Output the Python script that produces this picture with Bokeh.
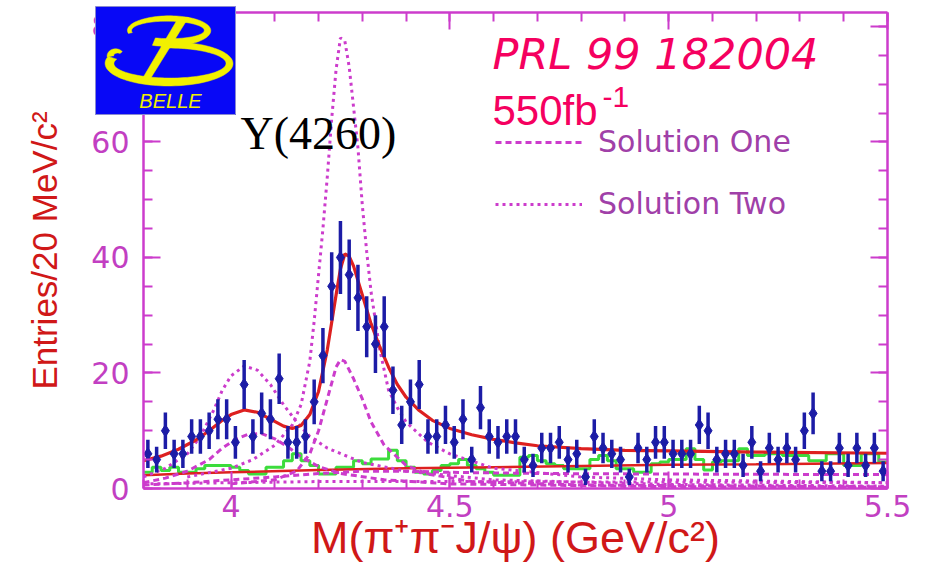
import numpy as np
from bokeh.plotting import figure
from bokeh.models import (Range1d, LinearAxis, SingleIntervalTicker, Label,
                          Legend, LegendItem, CustomJSTickFormatter)
from bokeh.core.properties import value
from bokeh.embed import file_html
from bokeh.resources import INLINE

# ---------------- data ----------------
# 20 MeV/c^2 bins covering 3.80 - 5.50 GeV/c^2
bin_start = 3.80
bin_width = 0.02
counts = [6, 5, 10, 6, 6, 9, 9, 10, 12, 12,
          8, 18, 9, 13, 12, 19, 8, 8, 9, 15,
          23, 35, 40, 37, 33, 28, 25, 28, 17, 11,
          15, 18, 9, 9, 11, 8, 12, 5, 14, 9,
          8, 9, 9, 5, 4, 7, 7, 8, 5, 6,
          2, 9, 7, 6, 5, 2, 7, 5, 8, 8,
          6, 6, 6, 11, 10, 5, 6, 6, 4, 8,
          3, 7, 5, 7, 5, 10, 13, 3, 3, 7,
          4, 7, 4, 7, 3]

# sideband background histogram (same binning)
sideband = [2.8, 3.7, 3.1, 3.7, 2.8, 2.8, 3.4, 4.0, 4.0, 4.0,
            3.7, 3.1, 2.5, 2.5, 3.7, 3.7, 4.8, 6.0, 4.8, 4.0,
            2.5, 2.5, 3.7, 3.7, 4.8, 4.3, 5.1, 5.1, 6.6, 4.8,
            3.7, 2.8, 2.5, 3.1, 4.0, 4.3, 5.0, 4.0, 3.4, 2.8,
            2.3, 2.3, 2.3, 5.4, 5.7, 4.8, 4.3, 4.0, 3.4, 3.4,
            3.4, 5.0, 5.7, 4.8, 3.4, 3.4, 2.8, 2.8, 4.3, 4.6,
            5.0, 5.0, 6.9, 5.0, 3.2, 4.6, 4.8, 4.8, 6.9, 5.7,
            5.7, 6.0, 6.0, 5.7, 5.7, 5.7, 4.8, 4.8, 6.0, 6.0,
            4.0, 4.0, 6.0, 6.0, 4.6]

# total fit
fit_x = [3.80, 3.84, 3.88, 3.92, 3.95, 3.98, 4.00, 4.03, 4.06, 4.09, 4.12, 4.14, 4.16,
         4.18, 4.20, 4.22, 4.24, 4.25, 4.26, 4.27, 4.28, 4.30, 4.32, 4.34, 4.36, 4.38,
         4.40, 4.43, 4.46, 4.50, 4.55, 4.60, 4.65, 4.70, 4.80, 4.90, 5.00, 5.20, 5.50]
fit_y = [4.8, 5.6, 6.8, 8.4, 10.0, 11.8, 12.8, 13.6, 13.2, 12.0, 10.8, 10.4, 10.9,
         12.8, 16.8, 24.0, 33.5, 38.0, 40.6, 40.2, 38.5, 33.5, 28.5, 24.5, 21.0, 18.0,
         15.8, 13.5, 11.8, 10.4, 9.3, 8.5, 7.9, 7.4, 6.9, 6.6, 6.5, 6.3, 6.1]

# fitted non-resonant background
bkg_x = [3.80, 3.90, 4.00, 4.20, 4.40, 4.60, 4.80, 5.00, 5.20, 5.50]
bkg_y = [2.3, 2.6, 2.8, 3.2, 3.5, 3.7, 3.9, 4.1, 4.2, 4.4]

# Solution One components
s1_y4008_x = [3.80, 3.85, 3.90, 3.95, 3.98, 4.01, 4.04, 4.07, 4.10, 4.13, 4.16, 4.20,
              4.25, 4.35, 4.50, 5.00, 5.50]
s1_y4008_y = [1.0, 1.8, 3.0, 5.0, 7.0, 8.5, 9.4, 9.5, 8.6, 7.2, 5.5, 3.8,
              2.6, 1.5, 0.8, 0.3, 0.2]
s1_y4260_x = [4.00, 4.10, 4.15, 4.18, 4.20, 4.22, 4.24, 4.25, 4.26, 4.28, 4.30, 4.32,
              4.35, 4.40, 4.45, 4.55, 4.80, 5.50]
s1_y4260_y = [0.8, 1.5, 3.0, 6.0, 10.0, 15.5, 21.0, 22.3, 22.0, 19.0, 15.5, 11.5,
              7.5, 4.0, 2.5, 1.2, 0.6, 0.3]
s1_intf_x = [3.80, 3.90, 4.00, 4.10, 4.20, 4.30, 4.40, 4.50, 4.70, 5.00, 5.50]
s1_intf_y = [0.6, 1.0, 1.5, 2.0, 2.6, 3.0, 3.0, 2.8, 2.6, 2.5, 2.4]

# Solution Two components
s2_y4008_x = [3.80, 3.85, 3.90, 3.93, 3.96, 3.98, 4.00, 4.03, 4.06, 4.09, 4.12, 4.15,
              4.18, 4.22, 4.30, 4.40, 4.60, 5.00, 5.50]
s2_y4008_y = [2.0, 3.5, 6.0, 9.0, 13.5, 17.0, 19.5, 21.2, 20.5, 18.0, 14.5, 11.5,
              9.0, 7.0, 4.5, 3.0, 1.5, 0.7, 0.4]
s2_y4260_x = [3.90, 4.00, 4.05, 4.10, 4.14, 4.16, 4.18, 4.19, 4.20, 4.21, 4.22, 4.23,
              4.24, 4.25, 4.26, 4.27, 4.28, 4.29, 4.30, 4.31, 4.32, 4.34, 4.36, 4.38,
              4.40, 4.45, 4.50, 4.60, 4.80, 5.00, 5.50]
s2_y4260_y = [2.0, 3.5, 5.0, 7.5, 11.0, 14.5, 22.0, 29.0, 37.0, 45.0, 54.0, 64.0,
              72.5, 78.0, 77.5, 73.0, 66.0, 59.0, 49.0, 41.0, 34.0, 24.0, 17.0, 14.0,
              11.5, 8.0, 6.0, 3.5, 2.0, 1.5, 1.0]
s2_intf_x = [3.80, 4.00, 4.20, 4.50, 5.00, 5.50]
s2_intf_y = [0.8, 1.0, 1.2, 1.2, 1.1, 1.0]

legend_labels = ["Solution One", "Solution Two"]

# ---------------- derived ----------------
counts_arr = np.array(counts, dtype=float)
centers = bin_start + bin_width * (np.arange(len(counts)) + 0.5)
err = np.sqrt(counts_arr)
edges = bin_start + bin_width * np.arange(len(sideband) + 1)
side_steps = list(sideband) + [sideband[-1]]

# ---------------- main figure ----------------
X0, X1 = 3.80, 5.50
Y0, Y1 = 0.0, 82.4
W, H = 930, 574
FL, FR, FT, FB = 143, 887, 12, 488   # frame edges in page pixels

MAG = "#cc3ccc"
LABEL_MAG = "#c23fc2"
RED_T = "#d01818"

p = figure(width=W, height=H, x_range=Range1d(X0, X1), y_range=Range1d(Y0, Y1),
           output_backend="svg", toolbar_location=None,
           min_border_left=FL, min_border_right=W - FR,
           min_border_top=FT, min_border_bottom=H - FB,
           x_axis_label="M(π⁺π⁻J/ψ) (GeV/c²)", y_axis_label="Entries/20 MeV/c²")
p.outline_line_color = None
p.grid.visible = False
p.background_fill_color = "white"
p.border_fill_color = "white"

p.xaxis.ticker = SingleIntervalTicker(interval=0.5, num_minor_ticks=5)
p.yaxis.ticker = SingleIntervalTicker(interval=20, num_minor_ticks=4)
p.xaxis.formatter = CustomJSTickFormatter(code="return String(tick)")


def style_axis(ax, labels=True):
    ax.axis_line_color = MAG
    ax.axis_line_width = 2.5
    ax.major_tick_line_color = MAG
    ax.minor_tick_line_color = MAG
    ax.major_tick_line_width = 2
    ax.minor_tick_line_width = 2
    ax.major_tick_in = 17
    ax.major_tick_out = 0
    ax.minor_tick_in = 9
    ax.minor_tick_out = 0
    ax.major_label_text_color = LABEL_MAG
    ax.major_label_text_font = "DejaVu Sans"
    ax.major_label_text_font_size = "30px"
    if not labels:
        ax.formatter = CustomJSTickFormatter(code="return ''")
        ax.major_label_standoff = 0


style_axis(p.xaxis[0])
style_axis(p.yaxis[0])
p.xaxis.major_label_standoff = 6
p.yaxis.major_label_standoff = 14
for ax in (p.xaxis[0], p.yaxis[0]):
    ax.axis_label_text_color = RED_T
    ax.axis_label_text_font = "Liberation Sans"
    ax.axis_label_text_font_style = "normal"
p.xaxis.axis_label_text_font_size = "45px"
p.yaxis.axis_label_text_font_size = "35px"
p.xaxis.axis_label_standoff = -8
p.yaxis.axis_label_standoff = 24

top_ax = LinearAxis(ticker=SingleIntervalTicker(interval=0.5, num_minor_ticks=5))
right_ax = LinearAxis(ticker=SingleIntervalTicker(interval=20, num_minor_ticks=4))
style_axis(top_ax, labels=False)
style_axis(right_ax, labels=False)
p.add_layout(top_ax, "above")
p.add_layout(right_ax, "right")

# sideband histogram
p.step(edges, side_steps, mode="after", line_color="#3cdc3c", line_width=3)

# fitted curves
p.line(bkg_x, bkg_y, line_color="#dd2020", line_width=2.5)
s1_style = dict(line_color=MAG, line_width=3, line_dash="6 4")
s2_style = dict(line_color=MAG, line_width=3, line_dash="3 4")
r_s1 = p.line(s1_y4260_x, s1_y4260_y, **s1_style)
p.line(s1_y4008_x, s1_y4008_y, **s1_style)
p.line(s1_intf_x, s1_intf_y, **s1_style)
r_s2 = p.line(s2_y4260_x, s2_y4260_y, **s2_style)
p.line(s2_y4008_x, s2_y4008_y, **s2_style)
p.line(s2_intf_x, s2_intf_y, **s2_style)
p.line(fit_x, fit_y, line_color="#dd2020", line_width=3.2)

# data with Poisson errors
p.segment(centers, counts_arr - err, centers, counts_arr + err,
          line_color="#1c1ca6", line_width=3.5)
p.scatter(centers, counts_arr, marker="diamond", size=12,
          fill_color="#1c1ca6", line_color="#1c1ca6")

legend = Legend(items=[LegendItem(label=legend_labels[0], renderers=[r_s1]),
                       LegendItem(label=legend_labels[1], renderers=[r_s2])],
                location=(352, 267), orientation="vertical",
                glyph_width=87, glyph_height=30, label_height=30, spacing=27,
                label_standoff=16, padding=0, margin=0,
                background_fill_alpha=0, border_line_color=None,
                label_text_color="#a040a8", label_text_font="DejaVu Sans",
                label_text_font_size="30px")
p.add_layout(legend, "center")


# ---------------- text annotations ----------------
def gx(px):
    return X0 + (px - FL) * (X1 - X0) / (FR - FL)


def gy(py):
    return Y0 + (FB - py) * (Y1 - Y0) / (FB - FT)


PINK = "#f5005f"
p.add_layout(Label(x=gx(492), y=gy(53), text="PRL 99 182004", text_color=PINK,
                   text_font="DejaVu Sans", text_font_style="italic",
                   text_font_size="43px", text_baseline="alphabetic"))
p.add_layout(Label(x=gx(492), y=gy(110), text="550fb", text_color=PINK,
                   text_font="Liberation Sans", text_font_size="42px",
                   text_baseline="alphabetic"))
p.add_layout(Label(x=gx(602), y=gy(96), text="-1", text_color=PINK,
                   text_font="Liberation Sans", text_font_size="30px",
                   text_baseline="alphabetic"))
p.add_layout(Label(x=gx(240), y=gy(133), text="Y(4260)", text_color="black",
                   text_font="Liberation Serif", text_font_size="46px",
                   text_baseline="alphabetic"))

# ---------------- Belle logo (small figure laid over the page corner) ----------------
BLUE = "#0808f6"
YEL = "#f2f000"
LW, LH = 141, 109
logo = figure(width=LW, height=LH, x_range=Range1d(0, LW), y_range=Range1d(LH, 0),
              output_backend="svg", toolbar_location=None, min_border=0,
              x_axis_type=None, y_axis_type=None)
logo.grid.visible = False
logo.background_fill_color = BLUE
logo.border_fill_color = BLUE
logo.outline_line_color = "#8a8ad0"
logo.outline_line_width = 1
logo.styles = {"position": "absolute", "left": "95px", "top": "6px"}


def band(cx, cy, rx, ry, t0, t1, w0, w1=None):
    """Closed outline of a thick elliptical stroke (pixel units, y downward)."""
    w1 = w0 if w1 is None else w1
    t = np.radians(np.linspace(t0, t1, 90))
    w = np.linspace(w0, w1, 90)
    ox = cx + (rx + w / 2) * np.cos(t)
    oy = cy - (ry + w / 2) * np.sin(t)
    ix = cx + (rx - w / 2) * np.cos(t)
    iy = cy - (ry - w / 2) * np.sin(t)
    return list(np.concatenate([ox, ix[::-1]])), list(np.concatenate([oy, iy[::-1]]))


strokes = [band(73, 24, 39, 12, 192, -112, 4, 8),          # upper bowl
           band(74, 57, 60, 18.5, 98, -198, 6, 9),          # lower bowl
           band(21, 49, 6, 4.5, 190, 40, 7, 3),             # lower tail curl
           ([83, 93, 55, 47], [11, 11, 72, 72])]             # slanted stem
logo.patches([s[0] for s in strokes], [s[1] for s in strokes],
             fill_color=YEL, line_color=YEL, line_width=0.5)
logo.text(x=[75], y=[94], text=["BELLE"], text_color=YEL,
          text_font=value("Liberation Sans"), text_font_style="italic",
          text_font_size="20px", text_align="center", text_baseline="middle")

open("out.html", "w").write(file_html([p, logo], INLINE))
